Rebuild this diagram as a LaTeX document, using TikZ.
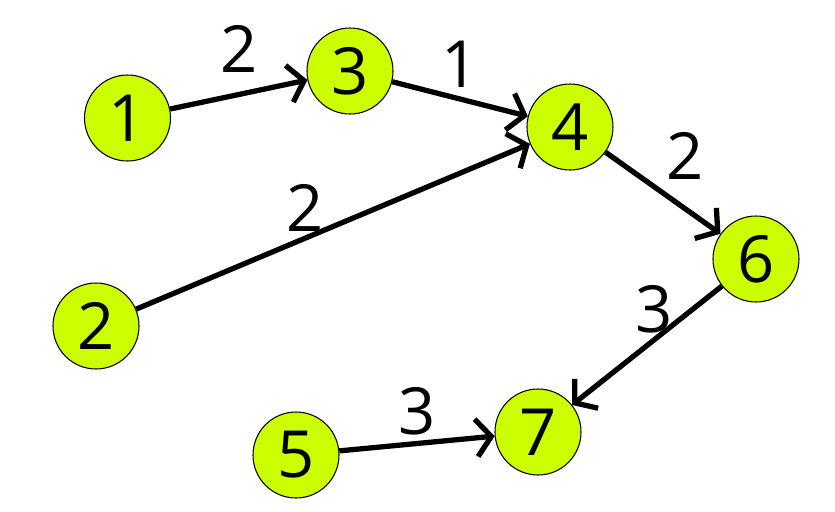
\documentclass[tikz,border=0pt]{standalone}
\usepackage{fontspec}
\setmainfont{Open Sans}
\usetikzlibrary{arrows.meta,positioning}

\tikzset{
  vertex/.style={circle,draw=black,line width=.6pt,fill=lime!80!yellow,minimum size=1.72cm,inner sep=0pt,font=\fontsize{37}{40}\selectfont},
  wt/.style={font=\fontsize{37}{40}\selectfont,inner sep=2pt},
  arc/.style={line width=3pt,-{Straight Barb[length=3mm,width=7.5mm]}}
}

\begin{document}
\begin{tikzpicture}
\useasboundingbox (0,0) rectangle (16.7,-10.24);
\node[vertex] (n1) at (2.55,-2.36) {1};
\node[vertex] (n3) at (7.0,-1.42) {3};
\node[vertex] (n4) at (11.4,-2.54) {4};
\node[vertex] (n2) at (1.92,-6.52) {2};
\node[vertex] (n6) at (15.12,-5.18) {6};
\node[vertex] (n5) at (5.92,-9.1) {5};
\node[vertex] (n7) at (10.76,-8.64) {7};
\draw[arc] (n1) -- node[wt,above,yshift=9pt] {2} (n3);
\draw[arc] (n3) -- node[wt,above,pos=.5,yshift=3pt] {1} (n4);
\draw[arc] (n2) -- node[wt,above,pos=.43] {2} (n4);
\draw[arc] (n4) -- node[wt,above right,pos=.45,xshift=2pt,yshift=2pt] {2} (n6);
\draw[arc] (n6) -- node[wt,above,pos=.45] {3} (n7);
\draw[arc] (n5) -- node[wt,above,pos=.5,yshift=1pt] {3} (n7);
\end{tikzpicture}
\end{document}
